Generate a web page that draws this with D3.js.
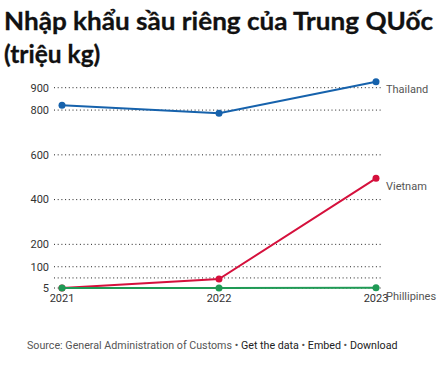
<!DOCTYPE html>
<html>
<head>
<meta charset="utf-8">
<script src="https://cdn.jsdelivr.net/npm/d3@7"></script>
<style>
  html, body { margin: 0; padding: 0; background: #fff; }
  svg { display: block; }
</style>
</head>
<body>
<svg id="chart" width="445" height="381"></svg>
<script>
const years = ["2021", "2022", "2023"];
const thailand = [822, 786, 927];
const vietnam = [5, 45, 495];
const philippines = [5, 5, 6];
const seriesNames = ["Thailand", "Vietnam", "Phillipines"];
const seriesColors = ["#1662ac", "#d5103c", "#1f9a55"];
const yTicks = [5, 50, 100, 200, 400, 600, 800, 900];
const yTickLabels = ["5", "", "100", "200", "400", "600", "800", "900"];
const titleLines = ["Nhập khẩu sầu riêng của Trung QUốc", "(triệu kg)"];
const sourceText = "Source: General Administration of Customs";
const links = ["Get the data", "Embed", "Download"];

const svg = d3.select("#chart");
svg.append("rect").attr("width", 445).attr("height", 381).attr("fill", "#fff");

// Title
const title = svg.append("g");
title.selectAll("text").data(titleLines).join("text")
  .attr("x", 4)
  .attr("y", (d, i) => 30 + i * 33)
  .attr("font-family", "Lato, 'Open Sans', sans-serif")
  .attr("font-weight", 700)
  .attr("font-size", 24.5)
  .attr("fill", "#111")
  .attr("stroke", "#111")
  .attr("stroke-width", 0.3)
  .each(function(d, i) {
    if (i === 0) d3.select(this).attr("textLength", 429).attr("lengthAdjust", "spacingAndGlyphs");
  })
  .text(d => d);

const x = d3.scalePoint().domain(years).range([62, 376]);
const y = d3.scaleLinear().domain([5, 900]).range([288, 87.7]);

const gridLeft = 54, gridRight = 382;

// gridlines
svg.append("g").selectAll("line").data(yTicks).join("line")
  .attr("x1", gridLeft).attr("x2", gridRight)
  .attr("y1", d => y(d)).attr("y2", d => y(d))
  .attr("stroke", "#222").attr("stroke-width", 1)
  .attr("stroke-dasharray", "1,2.7");

// y tick labels
svg.append("g").selectAll("text").data(yTicks).join("text")
  .attr("x", 49)
  .attr("y", d => y(d))
  .attr("dy", "0.35em")
  .attr("text-anchor", "end")
  .attr("font-family", "Roboto, sans-serif")
  .attr("font-size", 11)
  .attr("fill", "#333")
  .text((d, i) => yTickLabels[i]);

// x labels
svg.append("g").selectAll("text").data(years).join("text")
  .attr("x", d => x(d))
  .attr("y", 302)
  .attr("text-anchor", "middle")
  .attr("font-family", "Roboto, sans-serif")
  .attr("font-size", 11)
  .attr("fill", "#333")
  .text(d => d);

const data = [thailand, vietnam, philippines];
const line = d3.line().x((d, i) => x(years[i])).y(d => y(d));

const series = svg.append("g").selectAll("g").data(data).join("g");
series.append("path")
  .attr("d", d => line(d))
  .attr("fill", "none")
  .attr("stroke", (d, i) => seriesColors[i])
  .attr("stroke-width", 2);
series.each(function(d, si) {
  d3.select(this).selectAll("circle").data(d).join("circle")
    .attr("cx", (v, i) => x(years[i]))
    .attr("cy", v => y(v))
    .attr("r", 3.5)
    .attr("fill", seriesColors[si]);
});

// series labels
const labelOffsets = [7, 8, 8];
svg.append("g").selectAll("text").data(data).join("text")
  .attr("x", 386)
  .attr("y", (d, i) => y(d[2]) + labelOffsets[i])
  .attr("dy", "0.35em")
  .attr("font-family", "Roboto, sans-serif")
  .attr("font-size", 11)
  .attr("fill", "#555")
  .text((d, i) => seriesNames[i]);

// source line
const src = svg.append("text")
  .attr("x", 27).attr("y", 349)
  .attr("font-family", "Roboto, sans-serif")
  .attr("font-size", 10.7);
src.append("tspan").attr("fill", "#555").text(sourceText);
links.forEach(l => {
  src.append("tspan").attr("fill", "#555").text(" • ");
  src.append("tspan").attr("fill", "#222").text(l);
});
</script>
</body>
</html>
